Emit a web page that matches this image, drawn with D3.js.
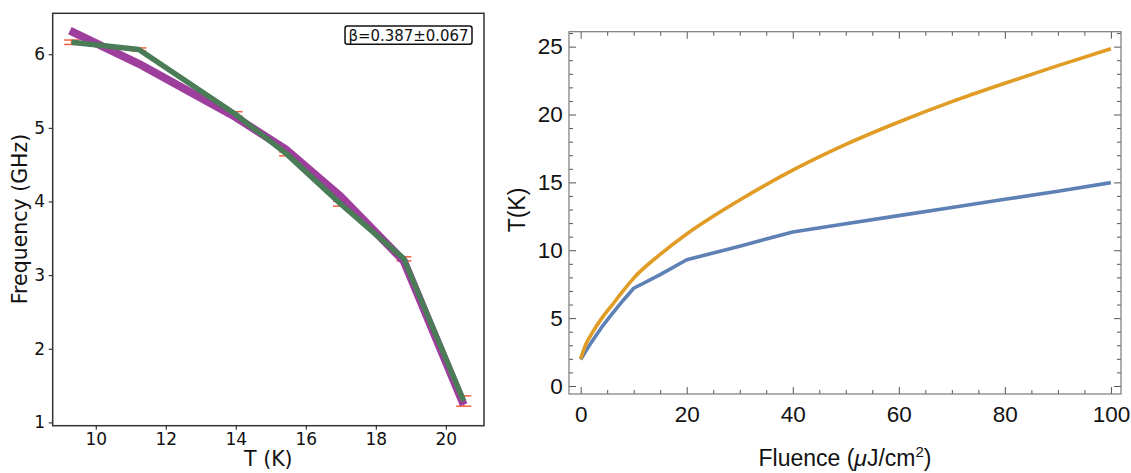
<!DOCTYPE html>
<html><head><meta charset="utf-8">
<script src="https://cdn.jsdelivr.net/npm/d3@7"></script>
<style>
body{margin:0;background:#fff;}
svg{display:block;}
</style></head>
<body>
<svg id="chart" width="1131" height="473"></svg>
<script>
// ---------- Left panel data ----------
const tempK = [9.31, 11.23, 13.98, 15.45, 16.99, 18.8, 20.51];
const freqData = [6.163, 6.064, 5.189, 4.647, 3.97, 3.222, 1.29];
const freqErr = [0.03, 0.022, 0.03, 0.027, 0.033, 0.027, 0.07];
const fitT = [9.26, 11.23, 13.98, 15.45, 16.99, 18.8, 20.51];
const fitFreq = [6.32, 5.87, 5.15, 4.70, 4.07, 3.19, 1.24];
const leftXTicks = [10, 12, 14, 16, 18, 20];
const leftYTicks = [1, 2, 3, 4, 5, 6];
const betaLabel = "β=0.387±0.067";

// ---------- Right panel data ----------
const fluenceOrange = [0, 1, 2, 4, 6, 8, 10, 15, 20, 25, 30, 40, 50, 60, 70, 80, 90, 100];
const tempOrange = [2.0, 3.1, 3.8, 5.0, 6.0, 7.0, 7.95, 9.7, 11.2, 12.5, 13.7, 15.9, 17.8, 19.45, 20.95, 22.3, 23.6, 24.85];
const fluenceBlue = [0, 1, 2, 4, 6, 8, 10, 15, 20, 25, 30, 40, 50, 60, 70, 80, 90, 100];
const tempBlue = [1.95, 2.6, 3.2, 4.35, 5.35, 6.3, 7.2, 8.2, 9.3, 9.8, 10.3, 11.35, 11.95, 12.55, 13.15, 13.75, 14.35, 14.98];
const rightXTicks = [0, 20, 40, 60, 80, 100];
const rightXMinor = d3.range(0, 101, 5);
const rightYTicks = [0, 5, 10, 15, 20, 25];
const rightYMinor = d3.range(0, 27, 1);

const svg = d3.select("#chart");

// ================= LEFT PANEL =================
const L = {x0: 52.7, x1: 484, y0: 13.3, y1: 425.7};
const xL = d3.scaleLinear().domain([8.77, 21.09]).range([L.x0, L.x1]);
const yL = d3.scaleLinear().domain([0.955, 6.556]).range([L.y1, L.y0]);
const gL = svg.append("g").attr("font-family", "DejaVu Sans");

// error bars (under lines)
const errColor = "#f4603e";
const eb = gL.append("g").attr("stroke", errColor).attr("stroke-width", 1.5);
tempK.forEach((t, i) => {
  const cx = xL(t), ytop = yL(freqData[i] + freqErr[i]), ybot = yL(freqData[i] - freqErr[i]);
  eb.append("line").attr("x1", cx).attr("x2", cx).attr("y1", ytop).attr("y2", ybot);
  eb.append("line").attr("x1", cx - 7.5).attr("x2", cx + 7.5).attr("y1", ytop).attr("y2", ytop);
  eb.append("line").attr("x1", cx - 7.5).attr("x2", cx + 7.5).attr("y1", ybot).attr("y2", ybot);
});

const lineL = d3.line().x(d => xL(d[0])).y(d => yL(d[1]));
gL.append("path").datum(fitT.map((t, i) => [t, fitFreq[i]]))
  .attr("d", lineL).attr("fill", "none").attr("stroke", "#9e3e9d")
  .attr("stroke-width", 8).attr("stroke-linejoin", "round").attr("stroke-linecap", "butt");
gL.append("path").datum(tempK.map((t, i) => [t, freqData[i]]))
  .attr("d", lineL).attr("fill", "none").attr("stroke", "#4a7c57")
  .attr("stroke-width", 5.5).attr("stroke-linejoin", "round").attr("stroke-linecap", "butt");

// axes
const axL = gL.append("g").attr("transform", `translate(${L.x0},0)`)
  .call(d3.axisLeft(yL).tickValues(leftYTicks).tickSize(4).tickPadding(3.7).tickFormat(d3.format("d")));
const axB = gL.append("g").attr("transform", `translate(0,${L.y1})`)
  .call(d3.axisBottom(xL).tickValues(leftXTicks).tickSize(4).tickPadding(3.6).tickFormat(d3.format("d")));
[axL, axB].forEach(a => {
  a.select(".domain").remove();
  a.selectAll("line").attr("stroke", "#222").attr("stroke-width", 1.1);
  a.selectAll("text").attr("font-size", 17).attr("fill", "#111").attr("font-family", "DejaVu Sans");
});
gL.append("rect").attr("x", L.x0).attr("y", L.y0).attr("width", L.x1 - L.x0).attr("height", L.y1 - L.y0)
  .attr("fill", "none").attr("stroke", "#333").attr("stroke-width", 1.5);

gL.append("text").attr("x", (L.x0 + L.x1) / 2).attr("y", 466).attr("text-anchor", "middle")
  .attr("font-size", 20.5).attr("fill", "#111").text("T (K)");
gL.append("text").attr("transform", `translate(26.5,${219}) rotate(-90)`).attr("text-anchor", "middle")
  .attr("font-size", 20.5).attr("fill", "#111").text("Frequency (GHz)");

// beta annotation box
gL.append("rect").attr("x", 345).attr("y", 26).attr("width", 127).attr("height", 18.3)
  .attr("rx", 2.5).attr("fill", "#fff").attr("stroke", "#111").attr("stroke-width", 1.5);
gL.append("text").attr("x", 408.5).attr("y", 35.3).attr("dy", "0.36em").attr("text-anchor", "middle")
  .attr("font-size", 15.5).attr("fill", "#111").attr("textLength", 120).attr("lengthAdjust", "spacingAndGlyphs")
  .text(betaLabel);

// ================= RIGHT PANEL =================
const R = {x0: 569, x1: 1121, y0: 31.7, y1: 394};
const xR = d3.scaleLinear().domain([-2.2, 101.9]).range([R.x0, R.x1]);
const yR = d3.scaleLinear().domain([-0.59, 26.1]).range([R.y1, R.y0]);
const gR = svg.append("g").attr("font-family", "Liberation Sans, Arial, sans-serif");

gR.append("path").datum(fluenceBlue.map((f, i) => [f, tempBlue[i]]))
  .attr("d", d3.line().x(d => xR(d[0])).y(d => yR(d[1])))
  .attr("fill", "none").attr("stroke", "#5e81b5").attr("stroke-width", 3.6)
  .attr("stroke-linejoin", "round");
gR.append("path").datum(fluenceOrange.map((f, i) => [f, tempOrange[i]]))
  .attr("d", d3.line().x(d => xR(d[0])).y(d => yR(d[1])).curve(d3.curveMonotoneX))
  .attr("fill", "none").attr("stroke", "#e09c24").attr("stroke-width", 3.6)
  .attr("stroke-linejoin", "round");

const tickCol = "#555";
function styleAx(a, labels) {
  a.select(".domain").remove();
  a.selectAll("line").attr("stroke", tickCol).attr("stroke-width", 1);
  if (labels) a.selectAll("text").attr("font-size", 22.5).attr("fill", "#111")
    .attr("font-family", "Liberation Sans, Arial, sans-serif");
  else a.selectAll("text").remove();
}
// bottom
styleAx(gR.append("g").attr("transform", `translate(0,${R.y1})`)
  .call(d3.axisBottom(xR).tickValues(rightXMinor.filter(v => v % 20 !== 0)).tickSize(-4).tickFormat("")), false);
styleAx(gR.append("g").attr("transform", `translate(0,${R.y1})`)
  .call(d3.axisBottom(xR).tickValues(rightXTicks).tickSize(-7).tickPadding(12).tickFormat(d3.format("d"))), true);
// top
styleAx(gR.append("g").attr("transform", `translate(0,${R.y0})`)
  .call(d3.axisTop(xR).tickValues(rightXMinor.filter(v => v % 20 !== 0)).tickSize(-4).tickFormat("")), false);
styleAx(gR.append("g").attr("transform", `translate(0,${R.y0})`)
  .call(d3.axisTop(xR).tickValues(rightXTicks).tickSize(-7)), false);
// left
styleAx(gR.append("g").attr("transform", `translate(${R.x0},0)`)
  .call(d3.axisLeft(yR).tickValues(rightYMinor.filter(v => v % 5 !== 0)).tickSize(-4).tickFormat("")), false);
styleAx(gR.append("g").attr("transform", `translate(${R.x0},0)`)
  .call(d3.axisLeft(yR).tickValues(rightYTicks).tickSize(-7).tickPadding(6.3).tickFormat(d3.format("d"))), true);
// right
styleAx(gR.append("g").attr("transform", `translate(${R.x1},0)`)
  .call(d3.axisRight(yR).tickValues(rightYMinor.filter(v => v % 5 !== 0)).tickSize(-4).tickFormat("")), false);
styleAx(gR.append("g").attr("transform", `translate(${R.x1},0)`)
  .call(d3.axisRight(yR).tickValues(rightYTicks).tickSize(-7)), false);

gR.append("rect").attr("x", R.x0).attr("y", R.y0).attr("width", R.x1 - R.x0).attr("height", R.y1 - R.y0)
  .attr("fill", "none").attr("stroke", "#7a7a7a").attr("stroke-width", 1.2);

const xt = gR.append("text").attr("x", (R.x0 + R.x1) / 2).attr("y", 466).attr("text-anchor", "middle")
  .attr("font-size", 23).attr("fill", "#111");
xt.append("tspan").text("Fluence (");
xt.append("tspan").attr("font-style", "italic").text("μ");
xt.append("tspan").text("J/cm");
xt.append("tspan").attr("font-size", 15).attr("dy", -9).text("2");
xt.append("tspan").attr("dy", 9).text(")");

gR.append("text").attr("transform", `translate(525,210) rotate(-90)`).attr("text-anchor", "middle")
  .attr("font-size", 23).attr("fill", "#111").text("T(K)");
</script>
</body></html>
